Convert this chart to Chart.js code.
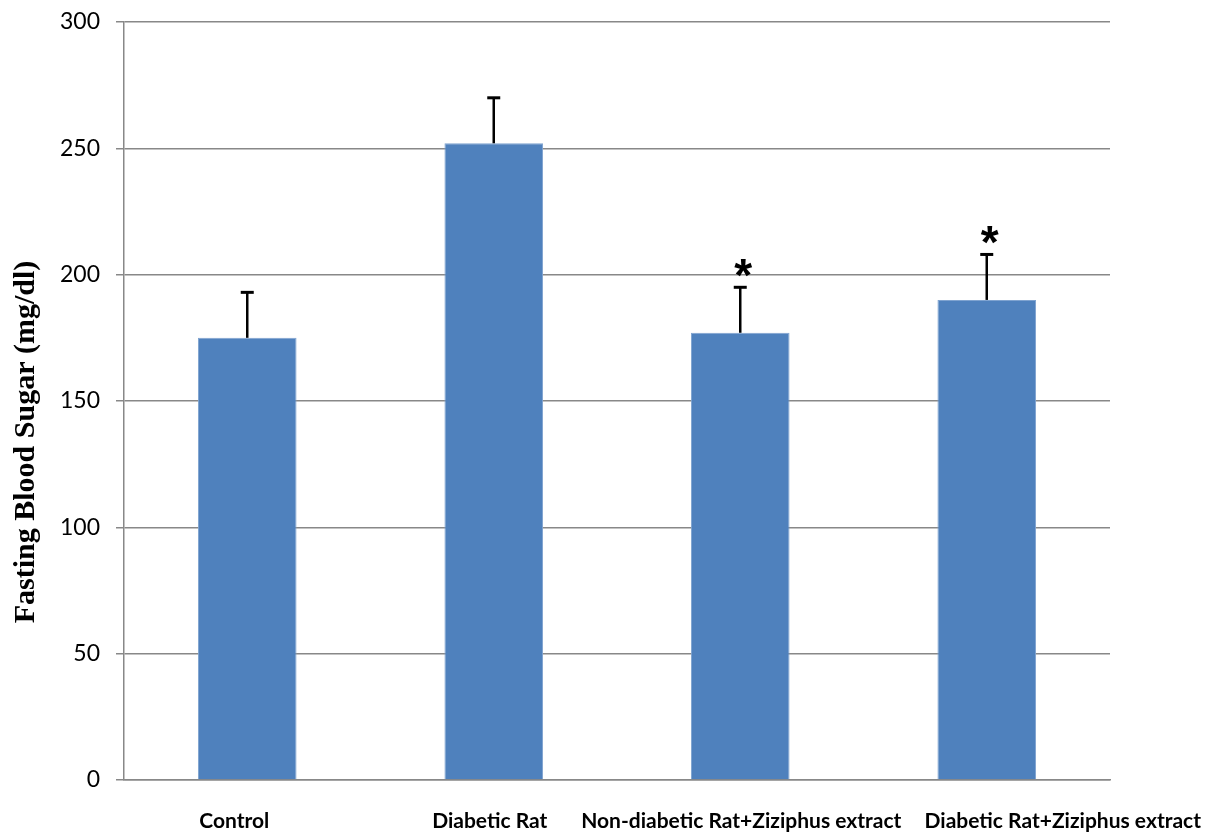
<!DOCTYPE html>
<html>
<head>
<meta charset="utf-8">
<script src="https://cdn.jsdelivr.net/npm/chart.js@4/dist/chart.umd.min.js"></script>
<style>
  html, body { margin: 0; padding: 0; background: #fff; }
  #wrap { width: 1217px; height: 837px; }
</style>
</head>
<body>
<div id="wrap"><canvas id="myChart" width="1217" height="837"></canvas></div>
<script>
// Data
const groups = ['Control', 'Diabetic Rat', 'Non-diabetic Rat+Ziziphus extract', 'Diabetic Rat+Ziziphus extract'];
const glucose = [175, 252, 177, 190];
const sdErr = [18, 18, 18, 18];
const significant = [false, false, true, true];
const yTicks = [0, 50, 100, 150, 200, 250, 300];
const yTitle = 'Fasting Blood Sugar (mg/dl)';

// error bars (upper half only) + asterisks
const errorBarPlugin = {
  id: 'errorBars',
  afterDatasetsDraw(chart) {
    const ctx = chart.ctx;
    const yScale = chart.scales.y;
    const meta = chart.getDatasetMeta(0);
    ctx.save();
    meta.data.forEach((bar, i) => {
      const yTop = yScale.getPixelForValue(glucose[i] + sdErr[i]);
      ctx.strokeStyle = '#000';
      ctx.lineWidth = 2.5;
      ctx.beginPath();
      ctx.moveTo(bar.x, bar.y);
      ctx.lineTo(bar.x, yTop);
      ctx.stroke();
      ctx.lineWidth = 3;
      ctx.beginPath();
      ctx.moveTo(bar.x - 6.5, yTop);
      ctx.lineTo(bar.x + 6.5, yTop);
      ctx.stroke();
      if (significant[i]) {
        ctx.fillStyle = '#000';
        ctx.font = 'bold 46px "Liberation Sans"';
        ctx.textAlign = 'center';
        ctx.textBaseline = 'alphabetic';
        ctx.fillText('*', bar.x + 3, yTop + 4);
      }
    });
    ctx.restore();
  }
};

// category labels under the axis (last one pushed right like the original) + y title
const labelPlugin = {
  id: 'labels',
  afterDraw(chart) {
    const ctx = chart.ctx;
    const xScale = chart.scales.x;
    const shift = [-13, -4, 1, 76];
    ctx.save();
    ctx.fillStyle = '#000';
    ctx.font = 'bold 21px Lato';
    ctx.textAlign = 'center';
    ctx.textBaseline = 'middle';
    groups.forEach((g, i) => {
      ctx.fillText(g, xScale.getPixelForValue(i) + shift[i], 821);
    });
    ctx.translate(26, 442);
    ctx.rotate(-Math.PI / 2);
    ctx.font = 'bold 30px "Liberation Serif"';
    ctx.fillText(yTitle, 0, 0);
    ctx.restore();
  }
};

const ctx = document.getElementById('myChart').getContext('2d');
new Chart(ctx, {
  type: 'bar',
  data: {
    labels: groups,
    datasets: [{
      data: glucose,
      backgroundColor: '#4F81BD',
      borderColor: '#7FA3D0',
      borderWidth: 1,
      barPercentage: 0.4,
      categoryPercentage: 1.0
    }]
  },
  options: {
    responsive: false,
    animation: false,
    layout: { padding: { left: 0, right: 107, top: 22, bottom: 0 } },
    plugins: {
      legend: { display: false },
      tooltip: { enabled: false }
    },
    scales: {
      x: {
        grid: { display: false },
        border: { color: '#888', width: 1.5 },
        ticks: { display: false },
        afterFit: (scale) => { scale.height = 57; }
      },
      y: {
        min: 0,
        max: 300,
        afterBuildTicks: (scale) => { scale.ticks = yTicks.map(v => ({ value: v })); },
        grid: { color: '#888', lineWidth: 1.5, tickLength: 8 },
        border: { color: '#888', width: 1.5 },
        ticks: {
          color: '#000',
          padding: 16,
          font: { family: 'Lato', size: 23 }
        },
        afterFit: (scale) => {
          scale.width = 124;
          scale.paddingTop = 0;
          scale.paddingBottom = 0;
        }
      }
    }
  },
  plugins: [errorBarPlugin, labelPlugin]
});
</script>
</body>
</html>
